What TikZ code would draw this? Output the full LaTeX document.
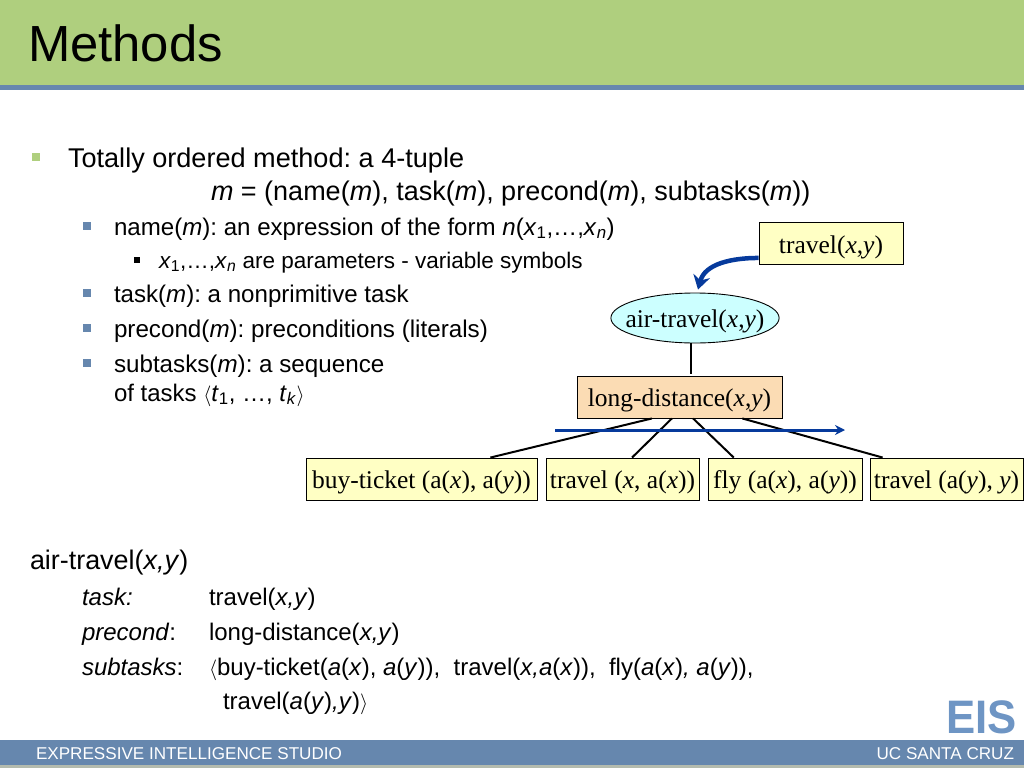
\documentclass[tikz,border=0pt]{standalone}
\usepackage{fontspec}
\setmainfont{Liberation Sans}
\newfontfamily\boxfont{Liberation Serif}
\usetikzlibrary{calc,shapes.geometric,arrows.meta}
\definecolor{bargreen}{HTML}{AFCF7E}
\definecolor{barblue}{HTML}{6687AE}
\definecolor{barshade}{HTML}{B4BBAE}
\definecolor{logoblue}{HTML}{6E95C4}
\definecolor{boxyellow}{HTML}{FFFFC4}
\definecolor{boxtan}{HTML}{FBDCB4}
\definecolor{ovalcyan}{HTML}{CCFFFF}
\definecolor{arrowblue}{HTML}{063A9C}
\tikzset{
	txt/.style={anchor=base west,inner sep=0pt,outer sep=0pt,font=\fontsize{#1}{#1}\selectfont},
	boxtxt/.style={draw=black,line width=0.9pt,inner sep=0pt,text height=24pt,text depth=5pt,font=\boxfont\fontsize{25.5}{25.5}\selectfont},
	plan/.style={boxtxt,fill=boxyellow,minimum height=42pt},
	blt/.style={fill=#1,inner sep=0pt,minimum size=8pt,outer sep=0pt}
}
\newcommand{\xy}{\textit{x,y}}
\newcommand{\opn}{{\fontsize{20}{20}\selectfont$\langle$}}
\newcommand{\cls}{{\fontsize{20}{20}\selectfont$\rangle$}}
\begin{document}
\begin{tikzpicture}[x=1pt,y=-1pt]
	%%%%% START %%%%%
	\frenchspacing
	\useasboundingbox (0, 0) rectangle (1024, 768);

	\fill[bargreen] (0, 0) rectangle (1024, 85);
	\fill[barblue] (0, 85) rectangle (1024, 90);
	\fill[barblue] (0, 740) rectangle (1024, 765);
	\fill[barshade] (0, 765) rectangle (1024, 768);

	\node[txt=50.8] (title) at (28, 61) {Methods};
	\node[txt=17.1,white] (footl) at (36, 759) {EXPRESSIVE INTELLIGENCE STUDIO};
	\node[txt=17.1,white,anchor=base east] (footr) at (1014, 759) {UC SANTA CRUZ};
	\node[txt=47,color=logoblue,font=\bfseries\fontsize{47}{47}\selectfont,xscale=0.93] (eis) at (946, 733) {EIS};

	\node[blt=bargreen] (b1) at (36, 157) {};
	\node[txt=27.1] (l1) at (68, 167) {Totally ordered method: a 4-tuple};
	\node[txt=27] (l2) at (211, 200) {\textit{m} = (name(\textit{m}), task(\textit{m}), precond(\textit{m}), subtasks(\textit{m}))};

	\node[blt=barblue] (b2) at (87, 226) {};
	\node[txt=24.1] (l3) at (114, 235) {name(\textit{m}): an expression of the form \textit{n}(\textit{x}\textsubscript{1},…,\textit{x}\textsubscript{\textit{n}})};
	\node[blt=black,minimum size=6pt] (b3) at (137, 260) {};
	\node[txt=22.5] (l4) at (159, 268) {\textit{x}\textsubscript{1},…,\textit{x}\textsubscript{\textit{n}} are parameters - variable symbols};
	\node[blt=barblue] (b4) at (87, 293) {};
	\node[txt=24.1] (l5) at (114, 302) {task(\textit{m}): a nonprimitive task};
	\node[blt=barblue] (b5) at (87, 328) {};
	\node[txt=24.2] (l6) at (114, 337) {precond(\textit{m}): preconditions (literals)};
	\node[blt=barblue] (b6) at (87, 363) {};
	\node[txt=24.2] (l7) at (114, 372) {subtasks(\textit{m}): a sequence};
	\node[txt=24] (l8) at (114, 401) {of tasks \opn\textit{t}\textsubscript{1}, …, \textit{t}\textsubscript{\textit{k}}\cls};

	\node[txt=26.9] (m0) at (30, 569) {air-travel(\xy)};
	\node[txt=24] (m1) at (82, 605) {\textit{task:}};
	\node[txt=24] (m2) at (209, 605) {travel(\xy)};
	\node[txt=24] (m3) at (82, 640) {\textit{precond}:};
	\node[txt=24] (m4) at (209, 640) {long-distance(\xy)};
	\node[txt=24] (m5) at (82, 675) {\textit{subtasks}:};
	\node[txt=24] (m6) at (209, 675) {\opn buy-ticket(\textit{a}(\textit{x}), \textit{a}(\textit{y})),\ \ travel(\textit{x,a}(\textit{x})),\ \ fly(\textit{a}(\textit{x})\textit{,} \textit{a}(\textit{y})),};
	\node[txt=24] (m7) at (223, 709) {travel(\textit{a}(\textit{y})\textit{,y})\cls};

	\node[plan,minimum width=144pt] (travel) at (831, 243.5) {travel(\textit{x},\textit{y})};
	\node[boxtxt,ellipse,fill=ovalcyan,inner xsep=-10pt,minimum height=50pt] (airtravel) at (695, 318) {air-travel(\textit{x},\textit{y})};
	\node[boxtxt,fill=boxtan,minimum width=205pt,minimum height=42pt] (longdist) at (679.5, 397) {long-distance(\textit{x},\textit{y})};
	\node[plan,minimum width=231pt] (buy) at (421.5, 479) {buy-ticket (a(\textit{x}), a(\textit{y}))};
	\node[plan,minimum width=153pt] (go) at (622.5, 479) {travel (\textit{x}, a(\textit{x}))};
	\node[plan,minimum width=154pt] (fly) at (785, 479) {fly (a(\textit{x}), a(\textit{y}))};
	\node[plan,minimum width=153pt] (back) at (946.5, 479) {travel (a(\textit{y}), \textit{y})};

	\draw[line width=2pt] ($(airtravel.south)+(-4,0)$) -- ($(longdist.north)+(11.5,-2)$);
	\draw[line width=2pt] ($(longdist.south west)!0.366!(longdist.south east)$) -- ($(buy.north west)!0.797!(buy.north east)$);
	\draw[line width=2pt] ($(longdist.south west)!0.463!(longdist.south east)$) -- ($(go.north west)!0.562!(go.north east)$);
	\draw[line width=2pt] ($(longdist.south west)!0.566!(longdist.south east)$) -- ($(fly.north west)!0.169!(fly.north east)$);
	\draw[line width=2pt] ($(longdist.south west)!0.805!(longdist.south east)$) -- ($(back.north west)!0.085!(back.north east)$);

	\coordinate (seqa) at (555, 430);
	\coordinate (seqb) at (845, 430);
	\draw[line width=3pt,color=arrowblue,-{Stealth[length=10pt,width=10pt]}] (seqa) -- (seqb);
	\draw[line width=4.5pt,color=arrowblue,-{Stealth[length=14pt,width=17pt]}] ($(travel.south west)+(0,-7)$) to[out=180,in=75] ($(airtravel.north)+(3,-3)$);

	%%%%% END %%%%%
\end{tikzpicture}
\end{document}
